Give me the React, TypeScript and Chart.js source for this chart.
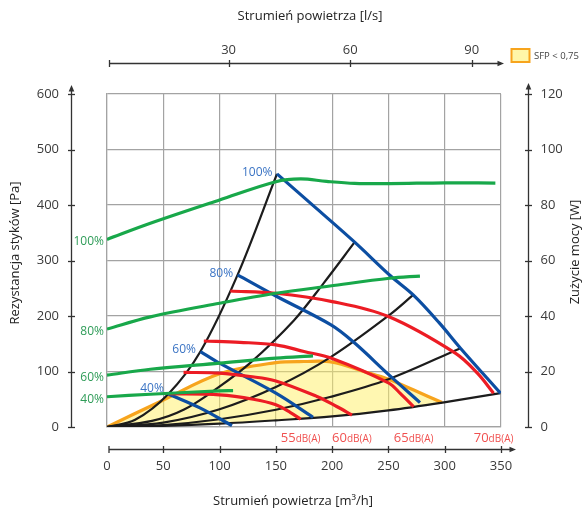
import React, { useEffect, useRef } from 'react';
import { Chart, registerables } from 'chart.js';

Chart.register(...registerables);

// ---------- axis ticks ----------
const xTicksM3h = [0, 50, 100, 150, 200, 250, 300, 350];
const xTicksLs = [30, 60, 90];
const yTicksPa = [0, 100, 200, 300, 400, 500, 600];
const yTicksW = [0, 20, 40, 60, 80, 100, 120];

// ---------- power consumption (green, W) ----------
const pow100Flow = [0, 38.5, 100, 150, 172, 195, 220, 251, 300, 345];
const pow100W = [67.6, 73.4, 81.8, 88.4, 89.4, 88.5, 87.8, 87.7, 88.0, 87.9];
const pow80Flow = [0, 38.5, 100, 150, 198, 251, 278];
const pow80W = [35.3, 39.7, 44.6, 48.2, 50.8, 53.6, 54.4];
const pow60Flow = [0, 38.5, 100, 150, 183];
const pow60W = [18.7, 20.8, 23.0, 24.8, 25.6];
const pow40Flow = [0, 38.5, 100, 112];
const pow40W = [10.9, 11.8, 13.0, 13.1];
const powLabels = ['100%', '80%', '60%', '40%'];

// ---------- fan curves (blue, Pa) ----------
const fan100Flow = [151, 186.5, 220, 252, 272, 295, 314, 349.5];
const fan100Pa = [456, 393, 333, 272, 238, 188, 142, 61];
const fan80Flow = [116, 150, 199, 219, 251, 278];
const fan80Pa = [274, 236, 184, 153, 93, 44];
const fan60Flow = [83, 100, 150, 183];
const fan60Pa = [136, 115, 61, 17.5];
const fan40Flow = [54.5, 83, 111];
const fan40Pa = [59.5, 34, 2.5];
const fanLabels = ['100%', '80%', '60%', '40%'];

// ---------- noise iso-lines (red, Pa) ----------
const db55Flow = [55, 100, 130, 150, 163, 172];
const db55Pa = [60, 58, 50, 40, 26, 14];
const db60Flow = [68, 100, 127, 150, 186.5, 204, 217.6];
const db60Pa = [98.5, 97, 91, 83, 55, 37, 21.6];
const db65Flow = [86, 118, 150, 175, 200, 250, 260.5, 272.4];
const db65Pa = [155, 152.6, 148, 136, 123.5, 79.5, 60.7, 36.6];
const db70Flow = [109.5, 150, 200, 250, 309.4, 329, 343.4];
const db70Pa = [245, 241, 226, 199, 133, 97, 61];
const dbLabels = ['55', '60', '65', '70'];

// ---------- system curves (black, Pa) ----------
const sys1Flow = [0, 25, 54.5, 83, 116, 151];
const sys1Pa = [0, 13, 59.5, 136, 274, 456];
const sys2Flow = [0, 40, 68, 98, 127, 166, 192, 220];
const sys2Pa = [0, 11, 31, 70, 115, 192, 258, 333];
const sys3Flow = [0, 50, 100, 150, 198, 251, 272];
const sys3Pa = [0, 8, 32, 72, 125, 202, 238];
const sys4Flow = [0, 50, 100, 150, 198, 250, 314];
const sys4Pa = [0, 3.5, 14, 31, 54, 86, 142];
const sys5Flow = [0, 50, 100, 150, 200, 250, 298, 349.5];
const sys5Pa = [0, 2, 6, 12, 19, 30, 44, 61];

// ---------- SFP < 0,75 region ----------
const sfpTopFlow = [0, 47, 100, 150, 175, 200, 228, 250, 272, 297.6];
const sfpTopPa = [0, 45.6, 96, 116, 118, 117, 100, 86, 67, 44];
const sfpBottomFlow = [0, 50, 100, 150, 200, 250, 297.6];
const sfpBottomPa = [0, 2, 6, 12, 19, 30, 44];

const GREEN = '#18a84a';
const BLUE = '#0c4ea2';
const RED = '#ec1c24';
const BLACK = '#1c1c1c';
const ORANGE = '#f7a41d';
const FONT = '"Open Sans", "DejaVu Sans", sans-serif';

const pts = (xs: number[], ys: number[]) => xs.map((x, i) => ({ x, y: ys[i] }));

const line = (label: string, xs: number[], ys: number[], color: string, width: number, axis = 'y', tension = 0.35) => ({
  label,
  data: pts(xs, ys),
  borderColor: color,
  borderWidth: width,
  pointRadius: 0,
  fill: false,
  tension,
  yAxisID: axis,
  xAxisID: 'x',
  borderCapStyle: 'butt' as const,
});

const powerSeries = [
  [pow100Flow, pow100W],
  [pow80Flow, pow80W],
  [pow60Flow, pow60W],
  [pow40Flow, pow40W],
];
const fanSeries = [
  [fan100Flow, fan100Pa],
  [fan80Flow, fan80Pa],
  [fan60Flow, fan60Pa],
  [fan40Flow, fan40Pa],
];
const dbSeries = [
  [db55Flow, db55Pa],
  [db60Flow, db60Pa],
  [db65Flow, db65Pa],
  [db70Flow, db70Pa],
];
const sysSeries = [
  [sys1Flow, sys1Pa],
  [sys2Flow, sys2Pa],
  [sys3Flow, sys3Pa],
  [sys4Flow, sys4Pa],
  [sys5Flow, sys5Pa],
];

function buildDatasets() {
  const ds: any[] = [];
  powerSeries.forEach(([xs, ys], i) => ds.push(line('P' + powLabels[i], xs, ys, GREEN, 3.2, 'y2')));
  dbSeries.forEach(([xs, ys], i) => ds.push(line(dbLabels[i] + 'dB', xs, ys, RED, 3.2)));
  fanSeries.forEach(([xs, ys], i) => ds.push(line('F' + fanLabels[i], xs, ys, BLUE, 3.2)));
  sysSeries.forEach(([xs, ys], i) => ds.push(line('S' + i, xs, ys, BLACK, 2.2)));
  const bottomIndex = ds.length + 1;
  ds.push({
    ...line('SFP', sfpTopFlow, sfpTopPa, ORANGE, 3.2),
    fill: { target: bottomIndex, above: 'rgba(255,240,100,0.5)', below: 'rgba(255,240,100,0.5)' },
    backgroundColor: 'rgba(255,240,100,0.5)',
  });
  ds.push({ ...line('SFPbase', sfpBottomFlow, sfpBottomPa, 'rgba(0,0,0,0)', 0) });
  return ds;
}

function arrow(ctx: CanvasRenderingContext2D, x: number, y: number, dir: 'up' | 'right') {
  ctx.beginPath();
  if (dir === 'up') {
    ctx.moveTo(x, y);
    ctx.lineTo(x - 2.8, y + 6.5);
    ctx.lineTo(x + 2.8, y + 6.5);
  } else {
    ctx.moveTo(x, y);
    ctx.lineTo(x - 6.5, y - 2.8);
    ctx.lineTo(x - 6.5, y + 2.8);
  }
  ctx.closePath();
  ctx.fill();
}

const decorPlugin = {
  id: 'decor',
  afterDraw(chart: any) {
    const ctx: CanvasRenderingContext2D = chart.ctx;
    const { x, x2, y, y2 } = chart.scales;
    const a = chart.chartArea;
    ctx.save();
    const axisColor = '#333';
    ctx.strokeStyle = axisColor;
    ctx.fillStyle = axisColor;
    ctx.lineWidth = 1.3;

    const lx = a.left - 35.5;
    const rx = a.right + 27.5;
    const by = a.bottom + 22.5;
    const ty = a.top - 30.5;

    // left axis
    ctx.beginPath();
    ctx.moveTo(lx, y.getPixelForValue(0));
    ctx.lineTo(lx, a.top - 5);
    ctx.stroke();
    arrow(ctx, lx, a.top - 9, 'up');
    yTicksPa.forEach((v) => {
      const py = Math.round(y.getPixelForValue(v)) + 0.5;
      ctx.beginPath();
      ctx.moveTo(lx - 3.5, py);
      ctx.lineTo(lx + 3.5, py);
      ctx.stroke();
    });
    // right axis
    ctx.beginPath();
    ctx.moveTo(rx, y2.getPixelForValue(0));
    ctx.lineTo(rx, a.top - 7);
    ctx.stroke();
    arrow(ctx, rx, a.top - 11, 'up');
    yTicksW.forEach((v) => {
      const py = Math.round(y2.getPixelForValue(v)) + 0.5;
      ctx.beginPath();
      ctx.moveTo(rx - 3.5, py);
      ctx.lineTo(rx + 3.5, py);
      ctx.stroke();
    });
    // bottom axis
    const bx0 = x.getPixelForValue(0) + 2;
    ctx.beginPath();
    ctx.moveTo(bx0, by);
    ctx.lineTo(a.right + 12, by);
    ctx.stroke();
    arrow(ctx, a.right + 15, by, 'right');
    xTicksM3h.forEach((v) => {
      const px = v === 0 ? bx0 : Math.round(x.getPixelForValue(v)) + 0.5;
      ctx.beginPath();
      ctx.moveTo(px, by - 3.5);
      ctx.lineTo(px, by + 3.5);
      ctx.stroke();
    });
    // top axis
    const tx0 = x2.getPixelForValue(0) + 2.5;
    ctx.beginPath();
    ctx.moveTo(tx0, ty);
    ctx.lineTo(a.right, ty);
    ctx.stroke();
    arrow(ctx, a.right + 3, ty, 'right');
    [0, ...xTicksLs].forEach((v) => {
      const px = v === 0 ? tx0 : Math.round(x2.getPixelForValue(v)) + 0.5;
      ctx.beginPath();
      ctx.moveTo(px, ty - 3.5);
      ctx.lineTo(px, ty + 3.5);
      ctx.stroke();
    });

    // tick labels
    ctx.fillStyle = '#3a3a3a';
    ctx.font = `13px ${FONT}`;
    ctx.textBaseline = 'middle';
    ctx.textAlign = 'right';
    yTicksPa.forEach((v) => ctx.fillText(String(v), lx - 12.5, y.getPixelForValue(v)));
    ctx.textAlign = 'left';
    yTicksW.forEach((v) => ctx.fillText(String(v), rx + 12, y2.getPixelForValue(v)));
    ctx.textAlign = 'center';
    xTicksM3h.forEach((v) => ctx.fillText(String(v), x.getPixelForValue(v), by + 17));
    xTicksLs.forEach((v) => ctx.fillText(String(v), x2.getPixelForValue(v), ty - 13));

    // axis titles
    ctx.fillStyle = '#222';
    ctx.font = `13px ${FONT}`;
    ctx.fillText('Strumień powietrza [l/s]', 310, a.top - 78);
    ctx.fillText('Strumień powietrza [m³/h]', 293, a.bottom + 74.5);
    ctx.save();
    ctx.translate(15, 253);
    ctx.rotate(-Math.PI / 2);
    ctx.fillText('Rezystancja styków [Pa]', 0, 0);
    ctx.restore();
    ctx.save();
    ctx.translate(a.right + 74.5, 252);
    ctx.rotate(-Math.PI / 2);
    ctx.fillText('Zużycie mocy [W]', 0, 0);
    ctx.restore();

    // green labels
    ctx.font = `12px ${FONT}`;
    ctx.fillStyle = '#2f9c58';
    ctx.textAlign = 'right';
    powerSeries.forEach(([xs, ys], i) => {
      ctx.fillText(powLabels[i], a.left - 3, y2.getPixelForValue(ys[0]) + 2.5);
    });

    // blue labels
    ctx.fillStyle = '#3b74c4';
    fanSeries.forEach(([xs, ys], i) => {
      const px = x.getPixelForValue(xs[0]);
      const py = y.getPixelForValue(ys[0]);
      const dy = i === 3 ? -5 : -1.5;
      ctx.fillText(fanLabels[i], px - 4.5, py + dy);
    });

    // red labels
    ctx.fillStyle = '#f0504f';
    ctx.textBaseline = 'alphabetic';
    ctx.textAlign = 'left';
    dbSeries.forEach(([xs], i) => {
      const cx = x.getPixelForValue(xs[xs.length - 1]);
      ctx.font = `13px ${FONT}`;
      const w1 = ctx.measureText(dbLabels[i]).width;
      ctx.font = `10px ${FONT}`;
      const w2 = ctx.measureText('dB(A)').width;
      const sx = cx - (w1 + w2) / 2;
      const base = a.bottom + 15;
      ctx.font = `13px ${FONT}`;
      ctx.fillText(dbLabels[i], sx, base);
      ctx.font = `10px ${FONT}`;
      ctx.fillText('dB(A)', sx + w1, base);
    });

    // legend
    const lgX = a.right + 10.5;
    const lgY = a.top - 45;
    ctx.fillStyle = '#fff6a8';
    ctx.fillRect(lgX, lgY, 18, 13);
    ctx.strokeStyle = ORANGE;
    ctx.lineWidth = 2;
    ctx.strokeRect(lgX, lgY, 18, 13);
    ctx.fillStyle = '#444';
    ctx.font = `9.5px ${FONT}`;
    ctx.textBaseline = 'middle';
    ctx.fillText('SFP < 0,75', lgX + 22.5, lgY + 7);

    ctx.restore();
  },
};

export default function App() {
  const ref = useRef<HTMLCanvasElement | null>(null);
  useEffect(() => {
    if (!ref.current) return;
    const gridCfg = { color: '#a3a3a3', lineWidth: 1.2, drawTicks: false };
    const borderCfg = { display: true, color: '#a3a3a3', width: 1.2 };
    const chart = new Chart(ref.current, {
      type: 'line',
      data: { datasets: buildDatasets() },
      options: {
        responsive: false,
        animation: false,
        devicePixelRatio: 1,
        layout: { padding: { left: 107, right: 82, top: 94, bottom: 87 } },
        plugins: { legend: { display: false }, tooltip: { enabled: false } },
        scales: {
          x: {
            type: 'linear',
            min: 0,
            max: 350,
            ticks: { display: false, stepSize: 50 },
            grid: gridCfg,
            border: borderCfg,
          },
          x2: { type: 'linear', min: 0, max: 350 / 3.6, display: false, position: 'top' },
          y: {
            type: 'linear',
            min: 0,
            max: 600,
            ticks: { display: false, stepSize: 100 },
            grid: gridCfg,
            border: borderCfg,
          },
          y2: { type: 'linear', min: 0, max: 120, display: false, position: 'right' },
        },
      } as any,
      plugins: [decorPlugin],
    });
    return () => chart.destroy();
  }, []);
  return (
    <div style={{ position: 'fixed', left: 0, top: 0, width: 583, height: 514, background: '#fff' }}>
      <canvas ref={ref} width={583} height={514} style={{ display: 'block' }} />
    </div>
  );
}
